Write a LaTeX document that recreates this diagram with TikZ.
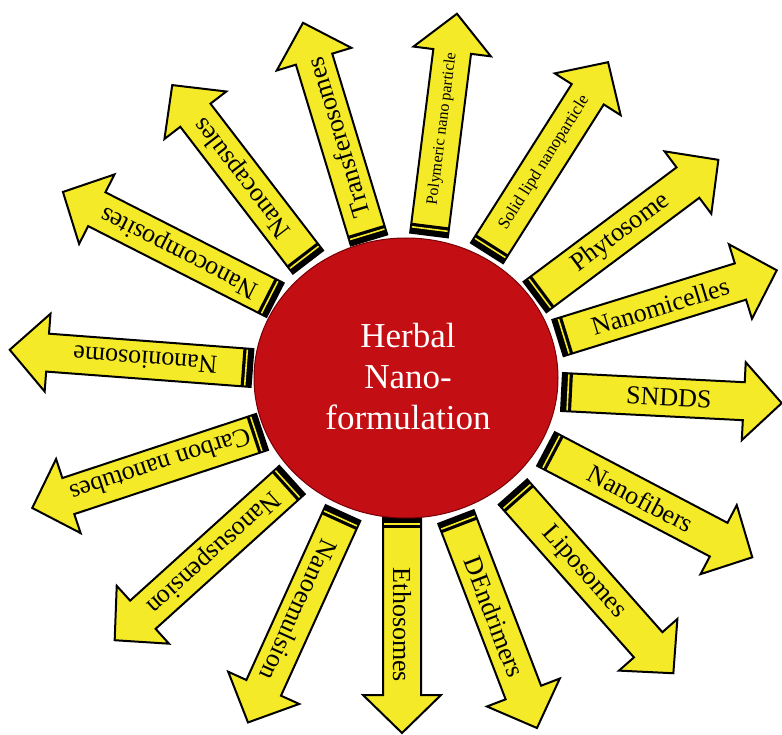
\documentclass[tikz,border=0pt]{standalone}
\usepackage{fontspec}
\setmainfont{Liberation Serif}

\definecolor{arrowyellow}{RGB}{245,234,40}
\definecolor{herbred}{RGB}{195,14,20}
\definecolor{herbdark}{RGB}{120,0,5}

\pgfdeclareradialshading{herbball}{\pgfpoint{0bp}{0bp}}{color(0bp)=(herbred); color(40bp)=(herbred); color(47bp)=(herbred!85!black); color(50bp)=(herbdark)}

\tikzset{
    herbbody/.style={draw=black, line width=2pt, fill=arrowyellow, line join=miter},
    herbband/.style={fill=black},
    herbline/.style={draw=arrowyellow, line width=1.6pt},
}

\def\herbarrow#1#2#3#4#5#6{ % #1 Name, #2 Base, #3 Angle, #4 Length, #5 Font size, #6 Label
    \begin{scope}[shift={(#2)}, rotate=#3]
        \draw[herbbody] (0,-19) -- (#4-38,-19) -- (#4-38,-39) -- (#4,0) -- (#4-38,39) -- (#4-38,19) -- (0,19) -- cycle;
        \fill[herbband] (0,-19) rectangle (10,19); %band
        \draw[herbline] (6,-18) -- (6,18);
        \node[rotate=#3, inner sep=0pt, font=\fontsize{#5}{#5}\selectfont] (#1) at (107,0) {#6};
    \end{scope}
}

\begin{document}
\begin{tikzpicture}[x=1pt, y=-1pt]
        \useasboundingbox (0,0) rectangle (782,735);

        % --------------------------------------------------
        \herbarrow{transfer}{369,240}{106.9}{227}{26}{Transferosomes}
        \herbarrow{polymer}{429,235}{82.8}{223}{16}{Polymeric nano particle}
        \herbarrow{solidlipid}{487,253}{57.6}{226}{17}{Solid lipd nanoparticle}
        \herbarrow{phyto}{535,297}{36.8}{229}{26}{Phytosome}
        \herbarrow{micelle}{558,338}{17.2}{229}{26}{Nanomicelles}
        \herbarrow{sndds}{562,392}{-2.9}{220}{26}{SNDDS}
        \herbarrow{fiber}{546,449}{-27.7}{233}{26}{Nanofibers}
        \herbarrow{lipo}{513,492}{-48.5}{242}{26}{Liposomes}
        \herbarrow{dendri}{456,517}{-69}{226}{26}{DEndrimers}
        \herbarrow{etho}{402,518}{-90}{215}{26}{Ethosomes}
        \herbarrow{emul}{343,513}{-114.4}{230}{26}{Nanoemulsion}
        \herbarrow{susp}{292,480}{-137.9}{239}{26}{Nanosuspension}
        \herbarrow{carbon}{262,432}{-161.7}{242}{26}{Carbon nanotubes}
        \herbarrow{nioso}{252,368}{175.7}{243}{26}{Nanoniosome}
        \herbarrow{compos}{275,300}{153}{238}{26}{Nanocomposites}
        \herbarrow{capsule}{308,262}{127.5}{223}{26}{Nanocapsules}

        % --------------------------------------------------
        \shade[shading=herbball] (406,378) ellipse [x radius=152pt, y radius=140pt]; %kern
        \draw[herbdark, line width=1pt] (406,378) ellipse [x radius=152pt, y radius=140pt];
        \node[text=white, align=center, font=\fontsize{35}{41}\selectfont] (herb) at (408,377) {Herbal\\Nano-\\formulation};
\end{tikzpicture}
\end{document}
